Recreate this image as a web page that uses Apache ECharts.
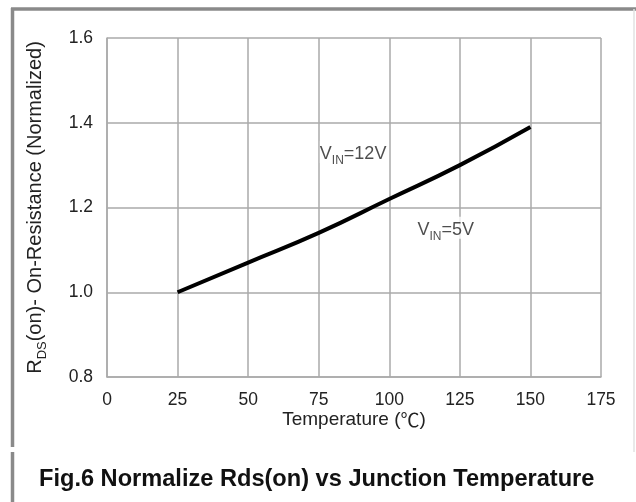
<!DOCTYPE html>
<html>
<head>
<meta charset="utf-8">
<script src="https://cdn.jsdelivr.net/npm/echarts@6/dist/echarts.min.js"></script>
<style>html,body{margin:0;padding:0;background:#fff;}#c{width:636px;height:502px;}</style>
</head>
<body>
<div id="c"></div>
<script>
var temperatures = [25, 50, 75, 100, 125, 150];
var rdsNormalized = [1.0, 1.07, 1.14, 1.22, 1.30, 1.39];
var xTicks = [0, 25, 50, 75, 100, 125, 150, 175];
var yTicks = [0.8, 1.0, 1.2, 1.4, 1.6];
var annotations = [
  { text: '{v|V}{s|IN}{v|=12V}', x: 75.4, y: 1.331 },
  { text: '{v|V}{s|IN}{v|=5V}', x: 110, y: 1.152 }
];

var font = '"Liberation Sans", Arial, sans-serif';
var chart = echarts.init(document.getElementById('c'));
var rich = {
  v: { fontSize: 18, color: '#222', fontFamily: font, lineHeight: 22, verticalAlign: 'bottom' },
  s: { fontSize: 12, color: '#222', fontFamily: font, lineHeight: 22, verticalAlign: 'bottom', padding: [0, 0, -4, 0] }
};

chart.setOption({
  animation: false,
  title: {
    text: 'Fig.6 Normalize Rds(on) vs Junction Temperature',
    left: 34, top: 462,
    textStyle: { fontSize: 23.6, fontWeight: 'bold', color: '#111', fontFamily: font }
  },
  grid: { left: 107, right: 35, top: 38, bottom: 125 },
  xAxis: {
    type: 'value', min: xTicks[0], max: xTicks[xTicks.length - 1], interval: 25,
    name: '{a|Temperature (}{b|℃}{a|)}', nameLocation: 'middle', nameGap: 32,
    nameMoveOverlap: false,
    nameTextStyle: { rich: {
      a: { fontSize: 19, color: '#222', fontFamily: font, lineHeight: 22 },
      b: { fontSize: 19, color: '#222', fontFamily: '"Noto Sans CJK SC", sans-serif', lineHeight: 22 }
    } },
    axisLine: { show: true, lineStyle: { color: '#aaa', width: 1.5 } },
    axisTick: { show: false },
    axisLabel: { fontSize: 17.5, color: '#222', margin: 14, fontFamily: font },
    splitLine: { show: true, lineStyle: { color: '#aaa', width: 1.5 } }
  },
  yAxis: {
    type: 'value', min: yTicks[0], max: yTicks[yTicks.length - 1], interval: 0.2,
    name: '{v|R}{s|DS}{v|(on)- On-Resistance (Normalized)}',
    nameLocation: 'middle', nameGap: 62, nameRotate: 90,
    nameTextStyle: { rich: {
      v: { fontSize: 20, color: '#222', fontFamily: font, lineHeight: 24, verticalAlign: 'bottom' },
      s: { fontSize: 13, color: '#222', fontFamily: font, lineHeight: 24, verticalAlign: 'bottom', padding: [0, 0, -4, 0] }
    } },
    axisLine: { show: true, lineStyle: { color: '#aaa', width: 1.5 } },
    axisTick: { show: false },
    axisLabel: { fontSize: 17.5, color: '#222', margin: 14, fontFamily: font,
      formatter: function (v) { return v.toFixed(1); } },
    splitLine: { show: true, lineStyle: { color: '#aaa', width: 1.5 } }
  },
  series: [
    {
      type: 'line', smooth: true, symbol: 'none',
      data: temperatures.map(function (t, i) { return [t, rdsNormalized[i]]; }),
      lineStyle: { color: '#000', width: 4 }
    },
    {
      type: 'scatter', symbolSize: 0,
      data: annotations.map(function (a) { return { value: [a.x, a.y], label: { formatter: a.text } }; }),
      label: { show: true, position: 'right', distance: 0, rich: rich, backgroundColor: '#fff' },
      z: 5
    }
  ],
  graphic: [
    { type: 'line', shape: { x1: 11, y1: 9, x2: 636, y2: 9 }, style: { stroke: '#8a8a8a', lineWidth: 3.5 } },
    { type: 'line', shape: { x1: 12.5, y1: 8, x2: 12.5, y2: 447 }, style: { stroke: '#8a8a8a', lineWidth: 3.5 } },
    { type: 'line', shape: { x1: 12.5, y1: 452, x2: 12.5, y2: 502 }, style: { stroke: '#8a8a8a', lineWidth: 3.5 } },
    { type: 'line', shape: { x1: 634, y1: 9, x2: 634, y2: 452 }, style: { stroke: '#e2e2e2', lineWidth: 1.5 } }
  ]
});
</script>
</body>
</html>
